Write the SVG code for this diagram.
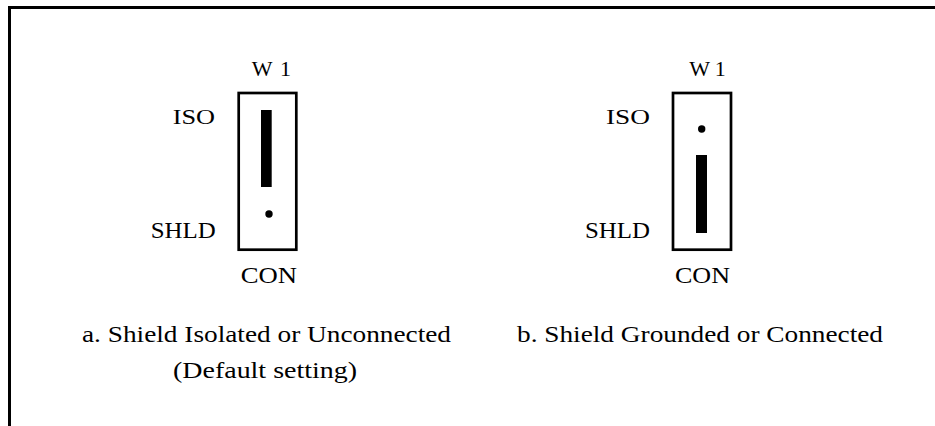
<svg xmlns="http://www.w3.org/2000/svg" width="935" height="426" viewBox="0 0 935 426">
<style>
text{font-family:"Liberation Serif","Times New Roman",serif;fill:#000}
.s22{font-size:22px}
.s23{font-size:23px}
.cap{font-size:24px}
.box{fill:none;stroke:#000;stroke-width:2.7}
.frame{fill:none;stroke:#000;stroke-width:3;stroke-linejoin:miter}
</style>
<rect width="935" height="426" fill="#fff"/>
<path class="frame" d="M9.5,426 V7.5 H935"/>
<g id="jumper-a">
<rect class="box" x="238.7" y="93" width="57.6" height="156.7"/>
<rect x="261" y="110" width="10.7" height="77" fill="#000"/>
<circle cx="269" cy="214" r="3.7" fill="#000"/>
<text class="s22" x="251.7" y="76" textLength="39.3" lengthAdjust="spacing">W1</text>
<text class="s22" x="172.7" y="124" textLength="42.3" lengthAdjust="spacingAndGlyphs">ISO</text>
<text class="s23" x="150.7" y="237.7" textLength="65" lengthAdjust="spacingAndGlyphs">SHLD</text>
<text class="s23" x="240.7" y="283.3" textLength="56.3" lengthAdjust="spacingAndGlyphs">CON</text>
</g>
<g id="jumper-b">
<rect class="box" x="673" y="93" width="58" height="156.7"/>
<circle cx="701.7" cy="129" r="3.7" fill="#000"/>
<rect x="696" y="155" width="11" height="78" fill="#000"/>
<text class="s22" x="689.3" y="76" textLength="36.4" lengthAdjust="spacing">W1</text>
<text class="s22" x="606" y="124" textLength="44" lengthAdjust="spacingAndGlyphs">ISO</text>
<text class="s23" x="585" y="237.7" textLength="65" lengthAdjust="spacingAndGlyphs">SHLD</text>
<text class="s23" x="675" y="283.3" textLength="55" lengthAdjust="spacingAndGlyphs">CON</text>
</g>
<g id="captions">
<text class="cap" x="82" y="342" textLength="369" lengthAdjust="spacingAndGlyphs">a. Shield Isolated or Unconnected</text>
<text class="cap" x="173" y="378" textLength="184" lengthAdjust="spacingAndGlyphs">(Default setting)</text>
<text class="cap" x="517" y="342" textLength="366" lengthAdjust="spacingAndGlyphs">b. Shield Grounded or Connected</text>
</g>
</svg>
